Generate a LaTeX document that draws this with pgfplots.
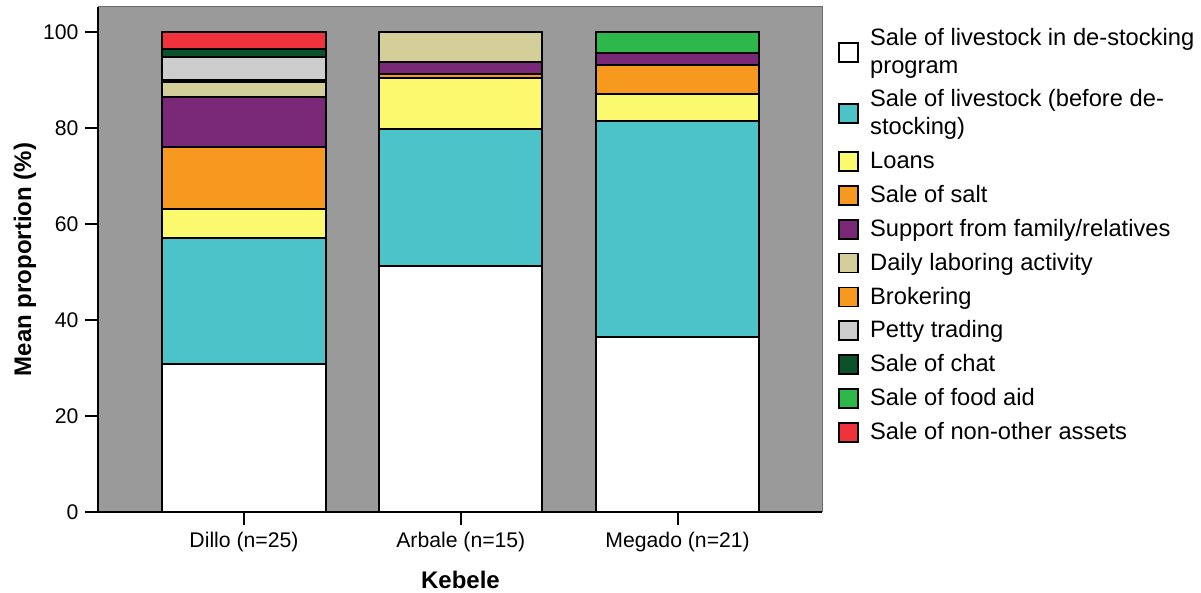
\documentclass[border=0pt]{standalone}
\usepackage{fontspec}
\setmainfont{Liberation Sans}
\usepackage{pgfplots}
\pgfplotsset{compat=1.18}
\definecolor{bggray}{HTML}{9A9A9A}
\definecolor{bgborder}{HTML}{6A6A6A}
\definecolor{cteal}{HTML}{4BC3C8}
\definecolor{cyellow}{HTML}{FBF96E}
\definecolor{corange}{HTML}{F7991F}
\definecolor{cpurple}{HTML}{7A2878}
\definecolor{ckhaki}{HTML}{D4CF98}
\definecolor{clgray}{HTML}{CDCDCD}
\definecolor{cdgreen}{HTML}{0B5129}
\definecolor{cgreen}{HTML}{2FB84A}
\definecolor{cred}{HTML}{F0323A}
\pgfplotsset{
  mybar/.style={fill=#1, draw=black, line width=1pt,
    legend image code/.code={\draw[fill=#1,draw=black,line width=0.9pt] (0pt,-4.75pt) rectangle (9.5pt,4.75pt);}},
}
\begin{document}
\begin{tikzpicture}
\begin{axis}[
  at={(0,0)}, anchor=south west,
  scale only axis,
  width=362pt, height=252.5pt,
  ybar stacked,
  bar width=0.753,
  xmin=-0.671, xmax=2.668,
  ymin=0, ymax=105.2,
  xtick={0,1,2},
  xticklabels={Dillo (n=25),Arbale (n=15),Megado (n=21)},
  ytick={0,20,40,60,80,100},
  axis x line*=bottom, axis y line*=left,
  axis line style={black, line width=1pt},
  axis background/.style={fill=bggray, draw=bgborder, line width=0.5pt},
  tick align=outside,
  major tick length=6.5pt,
  tick style={black, line width=0.9pt},
  ticklabel style={font=\fontsize{10.6}{12}\selectfont},
  /pgf/number format/assume math mode=true,
  xlabel={Kebele}, ylabel={Mean proportion (\%)},
  label style={font=\bfseries\fontsize{12}{14}\selectfont},
  xlabel style={at={(axis description cs:0.5,-0.1347)}, anchor=center},
  ylabel style={at={(axis description cs:-0.1015,0.5)}, anchor=center},
  legend cell align=left,
  legend style={at={(axis description cs:1.0214,0.9584)}, anchor=north west,
    draw=none, fill=none, inner sep=0pt,
    font=\fontsize{11.85}{14}\selectfont,
    cells={align=left},
    nodes={inner xsep=3pt, inner ysep=0pt},
    row sep=6.55pt,
    /tikz/every odd column/.append style={column sep=2.5pt}},
]
\addplot[mybar=white] coordinates {(0,30.8) (1,51.2) (2,36.5)};
\addlegendentry{Sale of livestock in de-stocking\\program}
\addplot[mybar=cteal] coordinates {(0,26.2) (1,28.6) (2,44.9)};
\addlegendentry{Sale of livestock (before de-\\stocking)}
\addplot[mybar=cyellow] coordinates {(0,6.1) (1,10.7) (2,5.6)};
\addlegendentry{Loans}
\addplot[mybar=corange] coordinates {(0,12.9) (1,0.8) (2,6.1)};
\addlegendentry{Sale of salt}
\addplot[mybar=cpurple] coordinates {(0,10.5) (1,2.4) (2,2.5)};
\addlegendentry{Support from family/relatives}
\addplot[mybar=ckhaki] coordinates {(0,3.1) (1,6.3) (2,0)};
\addlegendentry{Daily laboring activity}
\addplot[mybar=corange] coordinates {(0,0.4) (1,0) (2,0)};
\addlegendentry{Brokering}
\addplot[mybar=clgray] coordinates {(0,4.8) (1,0) (2,0)};
\addlegendentry{Petty trading}
\addplot[mybar=cdgreen] coordinates {(0,1.7) (1,0) (2,0)};
\addlegendentry{Sale of chat}
\addplot[mybar=cgreen] coordinates {(0,0) (1,0) (2,4.4)};
\addlegendentry{Sale of food aid}
\addplot[mybar=cred] coordinates {(0,3.5) (1,0) (2,0)};
\addlegendentry{Sale of non-other assets}
\end{axis}
\pgfresetboundingbox
\path[use as bounding box] (-49.25pt,-40.5pt) rectangle (551.25pt,256pt);
\end{tikzpicture}
\end{document}
